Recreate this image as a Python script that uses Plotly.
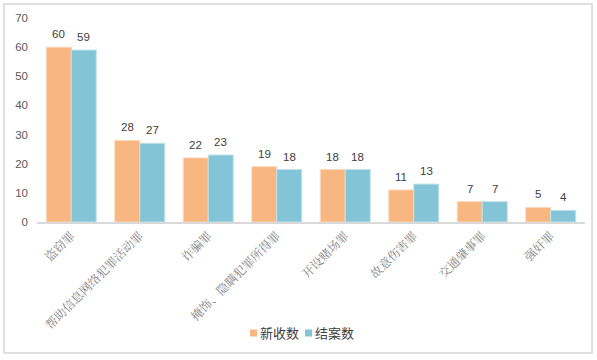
import plotly.graph_objects as go

categories = ["盗窃罪", "帮助信息网络犯罪活动罪", "诈骗罪", "掩饰、隐瞒犯罪所得罪",
              "开设赌场罪", "故意伤害罪", "交通肇事罪", "强奸罪"]
new_cases = [60, 28, 22, 19, 18, 11, 7, 5]
closed_cases = [59, 27, 23, 18, 18, 13, 7, 4]
y_ticks = [0, 10, 20, 30, 40, 50, 60, 70]
series_names = ["新收数", "结案数"]
series_colors = ["#F8B680", "#83C5D6"]
outline_colors = ["#FCD9BC", "#C0E2EB"]

W, H = 597, 360
ml, mr, mt, mb = 37, 12, 18, 138
pw, ph = W - ml - mr, H - mt - mb
cat_w = pw / len(categories)
bargap = 0.27
bar_w = cat_w * (1 - bargap) / 2

def px(x):
    return (x - ml) / pw

def py(y):
    return (H - mb - y) / ph

fig = go.Figure()
annotations = []
for i, (vals, name) in enumerate(zip([new_cases, closed_cases], series_names)):
    fig.add_trace(go.Bar(
        x=categories, y=vals, name=name,
        marker=dict(color=series_colors[i], line=dict(color=outline_colors[i], width=1)),
        showlegend=False,
    ))
    shift = (-0.5 if i == 0 else 0.5) * bar_w
    for c, v in zip(categories, vals):
        annotations.append(dict(
            x=c, y=v, xref="x", yref="y", text=str(v), showarrow=False,
            xshift=shift, yshift=13, yanchor="middle",
            font=dict(size=11.5, color="#404040", family="Liberation Sans, Arial"),
        ))

# legend drawn manually
leg_items = [(250, series_names[0], series_colors[0]), (305, series_names[1], series_colors[1])]
shapes = [dict(type="rect", xref="paper", yref="paper",
               x0=px(4), x1=px(592), y0=py(353), y1=py(4),
               line=dict(color="#E0E0E0", width=2), fillcolor="rgba(0,0,0,0)",
               layer="below")]
for x0, name, col in leg_items:
    shapes.append(dict(type="rect", xref="paper", yref="paper",
                       x0=px(x0), x1=px(x0 + 7), y0=py(336.5), y1=py(329.5),
                       line=dict(width=0), fillcolor=col))
    annotations.append(dict(x=px(x0 + 8), y=py(333), xref="paper", yref="paper",
                            text=name, showarrow=False, xanchor="left", yanchor="middle",
                            font=dict(size=13, color="#404040", family="Noto Sans CJK SC")))

fig.update_layout(
    width=W, height=H,
    margin=dict(l=ml, r=mr, t=mt, b=mb),
    paper_bgcolor="white", plot_bgcolor="white",
    barmode="group", bargap=bargap, bargroupgap=0,
    showlegend=False,
    xaxis=dict(tickangle=-45, showline=True, linecolor="#D9D9D9", linewidth=2,
               ticks="", tickfont=dict(size=12, color="#7F7F7F", family="Noto Serif CJK SC, Noto Sans CJK SC"),
               showgrid=False),
    yaxis=dict(range=[0, 70], tickvals=y_ticks, showgrid=False, zeroline=False,
               showline=False, ticks="", ticklabelstandoff=8,
               tickfont=dict(size=11.5, color="#595959", family="Liberation Sans, Arial")),
    font=dict(family="Noto Sans CJK SC"),
    shapes=shapes,
    annotations=annotations,
)

fig.write_html("out.html")
